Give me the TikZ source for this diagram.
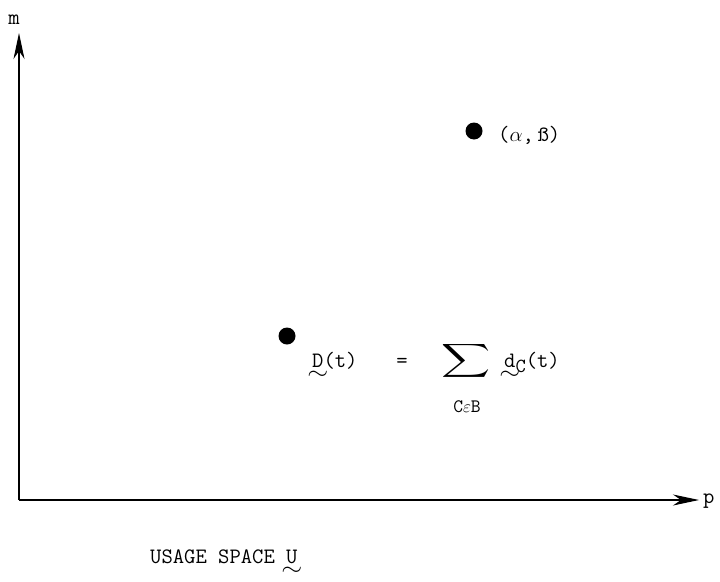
\documentclass[tikz,border=0pt]{standalone}
\usepackage{amsmath}
\usepackage{graphicx}
\usepackage{fontspec}
\usetikzlibrary{arrows.meta}
\newcommand{\mytld}[1]{\setbox0\hbox{#1}\rlap{\hbox to\wd0{\hss\raisebox{-12pt}{\scalebox{1.3}[1.1]{$\sim$}}\hss}}#1}
\tikzset{
  axis/.style={line width=1.1pt,-{Stealth[length=26pt,width=11pt,inset=8pt]}},
  dotmark/.style={circle,fill=black,inner sep=0pt,minimum size=17pt},
  lbl/.style={inner sep=0pt,font=\fontsize{22}{26}\selectfont\ttfamily}
}
\begin{document}
\begin{tikzpicture}[x=1pt,y=-1pt]
\useasboundingbox (0,0) rectangle (720,581);
\coordinate (O) at (19,500);
\coordinate (ytip) at (19,33);
\coordinate (xtip) at (699,500);
\draw[axis] (O) -- (ytip);
\draw[axis] (O) -- (xtip);
\node[lbl,anchor=base] (m) at (14,24) {m};
\node[lbl,anchor=base west] (p) at (703,503) {p};
\node[dotmark] (d1) at (474,131) {};
\node[lbl,anchor=base west] (ab) at (498,141) {($\alpha$,\,\ss)};
\node[dotmark] (d2) at (287,336) {};
\node[lbl,anchor=base west] (D) at (312,367) {\mytld{D}(t)};
\node[lbl,anchor=base] (eq) at (402,367) {=};
\node[inner sep=0pt] (sum) at (466,361) {\scalebox{3.4}[2.35]{$\displaystyle\sum$}};
\node[lbl,anchor=base,font=\fontsize{19}{22}\selectfont\ttfamily] (sub) at (467,412) {C$\varepsilon$B};
\node[lbl,anchor=base west] (dc) at (504,367) {\mytld{d}\raisebox{-5pt}{\fontsize{20}{22}\selectfont C}(t)};
\node[lbl,anchor=base west] (us) at (150,563) {USAGE SPACE \mytld{U}};
\end{tikzpicture}
\end{document}
